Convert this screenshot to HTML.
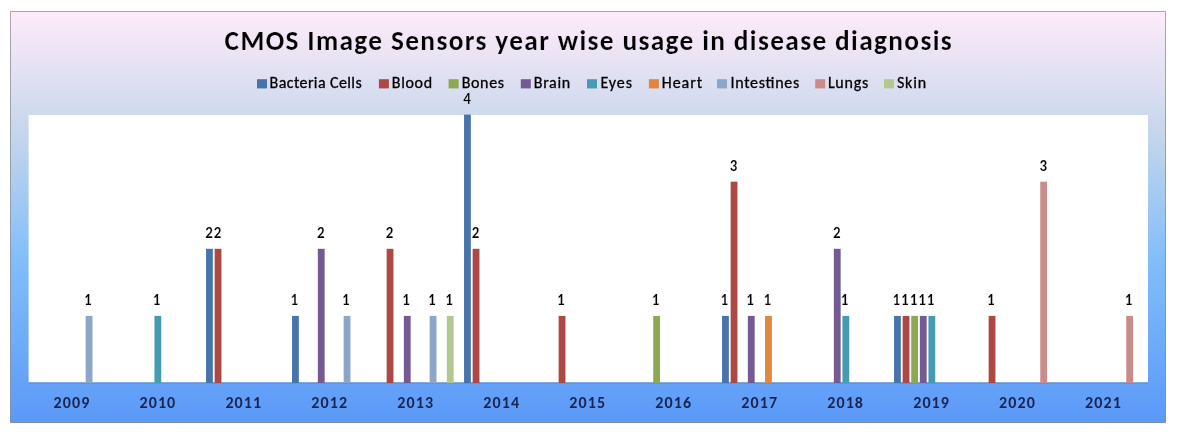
<!DOCTYPE html><html><head><meta charset="utf-8"><title>CMOS Image Sensors year wise usage in disease diagnosis</title>
<style>html,body{margin:0;padding:0;background:#fff;width:1179px;height:432px;overflow:hidden}svg{display:block}text{font-family:Carlito, 'Liberation Sans', sans-serif}</style></head><body>
<svg width="1179" height="432" viewBox="0 0 1179 432">
<defs><linearGradient id="bg" x1="0" y1="0" x2="0" y2="1"><stop offset="0" stop-color="#FFEBFA"/><stop offset="0.30" stop-color="#C4D6EB"/><stop offset="0.61" stop-color="#81BDFA"/><stop offset="1" stop-color="#5B99F8"/></linearGradient></defs>
<rect x="10.5" y="11.5" width="1155" height="411" fill="url(#bg)" stroke="#46464f" stroke-opacity="0.45" stroke-width="1"/>
<rect x="28.6" y="115.0" width="1119.4" height="267.5" fill="#fff"/>
<rect x="28.6" y="382.5" width="1119.4" height="1" fill="#5b86c6"/>
<text x="224.6" y="49.6" font-size="27.3" font-weight="bold" fill="#000" stroke="#f2e4f3" stroke-width="0.15" textLength="727" lengthAdjust="spacing">CMOS Image Sensors year wise usage in disease diagnosis</text>
<rect x="257" y="79.2" width="10" height="9.2" fill="#4774aa"/>
<text x="269.6" y="87.5" font-size="16" fill="#000" stroke="#000" stroke-width="0.3" textLength="92.1" lengthAdjust="spacing">Bacteria Cells</text>
<rect x="378.9" y="79.2" width="10" height="9.2" fill="#ad4845"/>
<text x="391.8" y="87.5" font-size="16" fill="#000" stroke="#000" stroke-width="0.3" textLength="40.3" lengthAdjust="spacing">Blood</text>
<rect x="448.6" y="79.2" width="10" height="9.2" fill="#8ca850"/>
<text x="461.7" y="87.5" font-size="16" fill="#000" stroke="#000" stroke-width="0.3" textLength="42.3" lengthAdjust="spacing">Bones</text>
<rect x="520.8" y="79.2" width="10" height="9.2" fill="#735a92"/>
<text x="533.8" y="87.5" font-size="16" fill="#000" stroke="#000" stroke-width="0.3" textLength="36.4" lengthAdjust="spacing">Brain</text>
<rect x="587" y="79.2" width="10" height="9.2" fill="#449bb2"/>
<text x="600.5" y="87.5" font-size="16" fill="#000" stroke="#000" stroke-width="0.3" textLength="31.4" lengthAdjust="spacing">Eyes</text>
<rect x="648.9" y="79.2" width="10" height="9.2" fill="#de873f"/>
<text x="661.8" y="87.5" font-size="16" fill="#000" stroke="#000" stroke-width="0.3" textLength="40.3" lengthAdjust="spacing">Heart</text>
<rect x="717" y="79.2" width="10" height="9.2" fill="#8ba6c8"/>
<text x="730.5" y="87.5" font-size="16" fill="#000" stroke="#000" stroke-width="0.3" textLength="68.7" lengthAdjust="spacing">Intestines</text>
<rect x="815.2" y="79.2" width="10" height="9.2" fill="#ca8c8a"/>
<text x="827.9" y="87.5" font-size="16" fill="#000" stroke="#000" stroke-width="0.3" textLength="40.3" lengthAdjust="spacing">Lungs</text>
<rect x="884" y="79.2" width="10" height="9.2" fill="#b5c790"/>
<text x="896.9" y="87.5" font-size="16" fill="#000" stroke="#000" stroke-width="0.3" textLength="29.2" lengthAdjust="spacing">Skin</text>
<rect x="85.65" y="315.90" width="6.8" height="67.10" fill="#8ba6c8"/>
<text x="87.85" y="305.00" text-anchor="middle" font-size="15.0" font-weight="bold" fill="#000" stroke="#ffffff" stroke-width="0.15">1</text>
<rect x="154.45" y="315.90" width="6.8" height="67.10" fill="#449bb2"/>
<text x="156.65" y="305.00" text-anchor="middle" font-size="15.0" font-weight="bold" fill="#000" stroke="#ffffff" stroke-width="0.15">1</text>
<rect x="206.05" y="248.80" width="6.8" height="134.20" fill="#4774aa"/>
<text x="209.05" y="237.90" text-anchor="middle" font-size="15.0" font-weight="bold" fill="#000" stroke="#ffffff" stroke-width="0.15">2</text>
<rect x="214.65" y="248.80" width="6.8" height="134.20" fill="#ad4845"/>
<text x="217.65" y="237.90" text-anchor="middle" font-size="15.0" font-weight="bold" fill="#000" stroke="#ffffff" stroke-width="0.15">2</text>
<rect x="292.05" y="315.90" width="6.8" height="67.10" fill="#4774aa"/>
<text x="294.25" y="305.00" text-anchor="middle" font-size="15.0" font-weight="bold" fill="#000" stroke="#ffffff" stroke-width="0.15">1</text>
<rect x="317.85" y="248.80" width="6.8" height="134.20" fill="#735a92"/>
<text x="320.85" y="237.90" text-anchor="middle" font-size="15.0" font-weight="bold" fill="#000" stroke="#ffffff" stroke-width="0.15">2</text>
<rect x="343.65" y="315.90" width="6.8" height="67.10" fill="#8ba6c8"/>
<text x="345.85" y="305.00" text-anchor="middle" font-size="15.0" font-weight="bold" fill="#000" stroke="#ffffff" stroke-width="0.15">1</text>
<rect x="386.65" y="248.80" width="6.8" height="134.20" fill="#ad4845"/>
<text x="389.65" y="237.90" text-anchor="middle" font-size="15.0" font-weight="bold" fill="#000" stroke="#ffffff" stroke-width="0.15">2</text>
<rect x="403.85" y="315.90" width="6.8" height="67.10" fill="#735a92"/>
<text x="406.05" y="305.00" text-anchor="middle" font-size="15.0" font-weight="bold" fill="#000" stroke="#ffffff" stroke-width="0.15">1</text>
<rect x="429.65" y="315.90" width="6.8" height="67.10" fill="#8ba6c8"/>
<text x="431.85" y="305.00" text-anchor="middle" font-size="15.0" font-weight="bold" fill="#000" stroke="#ffffff" stroke-width="0.15">1</text>
<rect x="446.85" y="315.90" width="6.8" height="67.10" fill="#b5c790"/>
<text x="449.05" y="305.00" text-anchor="middle" font-size="15.0" font-weight="bold" fill="#000" stroke="#ffffff" stroke-width="0.15">1</text>
<rect x="464.05" y="114.60" width="6.8" height="268.40" fill="#4774aa"/>
<text x="467.05" y="103.70" text-anchor="middle" font-size="15.0" font-weight="bold" fill="#000" stroke="#ffffff" stroke-width="0.15">4</text>
<rect x="472.65" y="248.80" width="6.8" height="134.20" fill="#ad4845"/>
<text x="475.65" y="237.90" text-anchor="middle" font-size="15.0" font-weight="bold" fill="#000" stroke="#ffffff" stroke-width="0.15">2</text>
<rect x="558.65" y="315.90" width="6.8" height="67.10" fill="#ad4845"/>
<text x="560.85" y="305.00" text-anchor="middle" font-size="15.0" font-weight="bold" fill="#000" stroke="#ffffff" stroke-width="0.15">1</text>
<rect x="653.25" y="315.90" width="6.8" height="67.10" fill="#8ca850"/>
<text x="655.45" y="305.00" text-anchor="middle" font-size="15.0" font-weight="bold" fill="#000" stroke="#ffffff" stroke-width="0.15">1</text>
<rect x="722.05" y="315.90" width="6.8" height="67.10" fill="#4774aa"/>
<text x="724.25" y="305.00" text-anchor="middle" font-size="15.0" font-weight="bold" fill="#000" stroke="#ffffff" stroke-width="0.15">1</text>
<rect x="730.65" y="181.70" width="6.8" height="201.30" fill="#ad4845"/>
<text x="733.65" y="170.80" text-anchor="middle" font-size="15.0" font-weight="bold" fill="#000" stroke="#ffffff" stroke-width="0.15">3</text>
<rect x="747.85" y="315.90" width="6.8" height="67.10" fill="#735a92"/>
<text x="750.05" y="305.00" text-anchor="middle" font-size="15.0" font-weight="bold" fill="#000" stroke="#ffffff" stroke-width="0.15">1</text>
<rect x="765.05" y="315.90" width="6.8" height="67.10" fill="#de873f"/>
<text x="767.25" y="305.00" text-anchor="middle" font-size="15.0" font-weight="bold" fill="#000" stroke="#ffffff" stroke-width="0.15">1</text>
<rect x="833.85" y="248.80" width="6.8" height="134.20" fill="#735a92"/>
<text x="836.85" y="237.90" text-anchor="middle" font-size="15.0" font-weight="bold" fill="#000" stroke="#ffffff" stroke-width="0.15">2</text>
<rect x="842.45" y="315.90" width="6.8" height="67.10" fill="#449bb2"/>
<text x="844.65" y="305.00" text-anchor="middle" font-size="15.0" font-weight="bold" fill="#000" stroke="#ffffff" stroke-width="0.15">1</text>
<rect x="894.05" y="315.90" width="6.8" height="67.10" fill="#4774aa"/>
<text x="896.25" y="305.00" text-anchor="middle" font-size="15.0" font-weight="bold" fill="#000" stroke="#ffffff" stroke-width="0.15">1</text>
<rect x="902.65" y="315.90" width="6.8" height="67.10" fill="#ad4845"/>
<text x="904.85" y="305.00" text-anchor="middle" font-size="15.0" font-weight="bold" fill="#000" stroke="#ffffff" stroke-width="0.15">1</text>
<rect x="911.25" y="315.90" width="6.8" height="67.10" fill="#8ca850"/>
<text x="913.45" y="305.00" text-anchor="middle" font-size="15.0" font-weight="bold" fill="#000" stroke="#ffffff" stroke-width="0.15">1</text>
<rect x="919.85" y="315.90" width="6.8" height="67.10" fill="#735a92"/>
<text x="922.05" y="305.00" text-anchor="middle" font-size="15.0" font-weight="bold" fill="#000" stroke="#ffffff" stroke-width="0.15">1</text>
<rect x="928.45" y="315.90" width="6.8" height="67.10" fill="#449bb2"/>
<text x="930.65" y="305.00" text-anchor="middle" font-size="15.0" font-weight="bold" fill="#000" stroke="#ffffff" stroke-width="0.15">1</text>
<rect x="988.65" y="315.90" width="6.8" height="67.10" fill="#ad4845"/>
<text x="990.85" y="305.00" text-anchor="middle" font-size="15.0" font-weight="bold" fill="#000" stroke="#ffffff" stroke-width="0.15">1</text>
<rect x="1040.25" y="181.70" width="6.8" height="201.30" fill="#ca8c8a"/>
<text x="1043.25" y="170.80" text-anchor="middle" font-size="15.0" font-weight="bold" fill="#000" stroke="#ffffff" stroke-width="0.15">3</text>
<rect x="1126.25" y="315.90" width="6.8" height="67.10" fill="#ca8c8a"/>
<text x="1128.45" y="305.00" text-anchor="middle" font-size="15.0" font-weight="bold" fill="#000" stroke="#ffffff" stroke-width="0.15">1</text>
<text x="71.35" y="407.9" text-anchor="middle" font-size="16" font-weight="bold" fill="#182552" textLength="35.8" lengthAdjust="spacing">2009</text>
<text x="157.32" y="407.9" text-anchor="middle" font-size="16" font-weight="bold" fill="#182552" textLength="35.8" lengthAdjust="spacing">2010</text>
<text x="243.29" y="407.9" text-anchor="middle" font-size="16" font-weight="bold" fill="#182552" textLength="35.8" lengthAdjust="spacing">2011</text>
<text x="329.26" y="407.9" text-anchor="middle" font-size="16" font-weight="bold" fill="#182552" textLength="35.8" lengthAdjust="spacing">2012</text>
<text x="415.23" y="407.9" text-anchor="middle" font-size="16" font-weight="bold" fill="#182552" textLength="35.8" lengthAdjust="spacing">2013</text>
<text x="501.20" y="407.9" text-anchor="middle" font-size="16" font-weight="bold" fill="#182552" textLength="35.8" lengthAdjust="spacing">2014</text>
<text x="587.17" y="407.9" text-anchor="middle" font-size="16" font-weight="bold" fill="#182552" textLength="35.8" lengthAdjust="spacing">2015</text>
<text x="673.14" y="407.9" text-anchor="middle" font-size="16" font-weight="bold" fill="#182552" textLength="35.8" lengthAdjust="spacing">2016</text>
<text x="759.11" y="407.9" text-anchor="middle" font-size="16" font-weight="bold" fill="#182552" textLength="35.8" lengthAdjust="spacing">2017</text>
<text x="845.08" y="407.9" text-anchor="middle" font-size="16" font-weight="bold" fill="#182552" textLength="35.8" lengthAdjust="spacing">2018</text>
<text x="931.05" y="407.9" text-anchor="middle" font-size="16" font-weight="bold" fill="#182552" textLength="35.8" lengthAdjust="spacing">2019</text>
<text x="1017.02" y="407.9" text-anchor="middle" font-size="16" font-weight="bold" fill="#182552" textLength="35.8" lengthAdjust="spacing">2020</text>
<text x="1102.99" y="407.9" text-anchor="middle" font-size="16" font-weight="bold" fill="#182552" textLength="35.8" lengthAdjust="spacing">2021</text>
</svg></body></html>
